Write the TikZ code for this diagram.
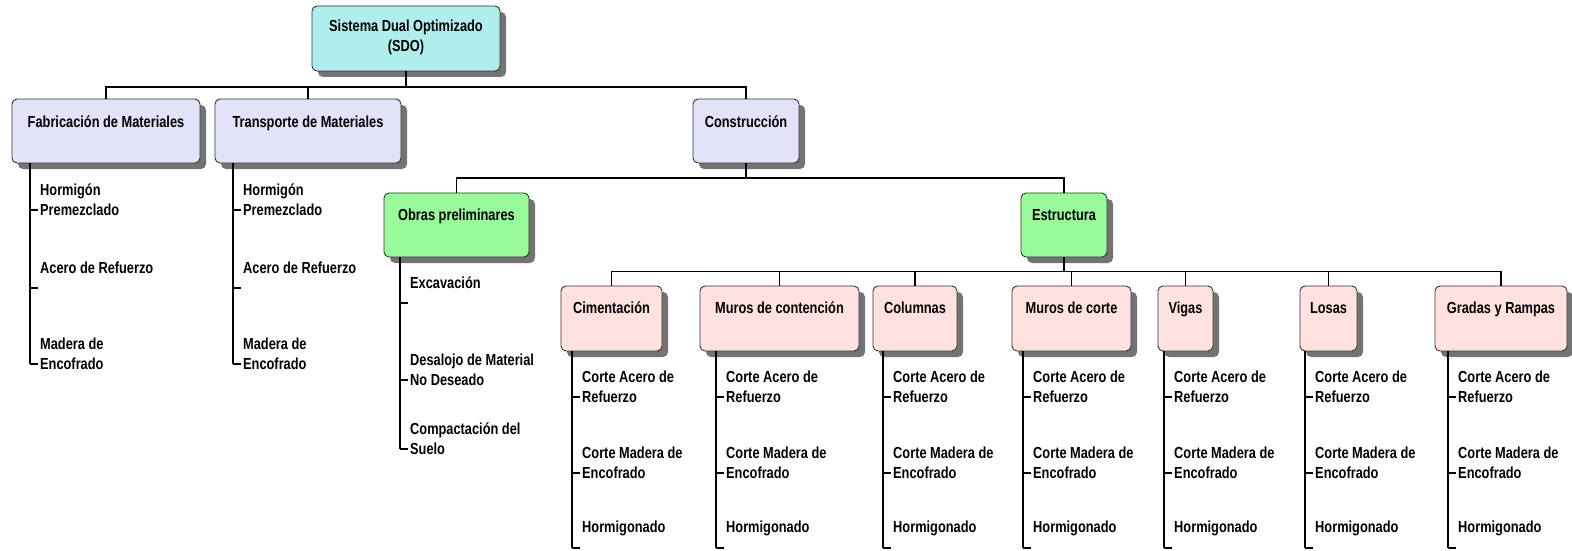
\documentclass[tikz,border=0pt]{standalone}
\usepackage{fontspec}
\setmainfont{Liberation Sans}[FakeStretch=0.8]
\usetikzlibrary{shadows}
\definecolor{cSDO}{RGB}{176,238,238}
\definecolor{cBlue}{RGB}{226,226,248}
\definecolor{cGreen}{RGB}{152,250,152}
\definecolor{cPink}{RGB}{255,226,224}
\definecolor{cEdge}{RGB}{50,50,50}
\tikzset{
  box/.style={draw=cEdge, line width=0.9pt, rounded corners=5pt, inner sep=0pt,
    drop shadow={shadow xshift=6pt, shadow yshift=-6pt, fill=black!55, opacity=1}},
  bxsdo/.style={box, fill=cSDO},
  bxblue/.style={box, fill=cBlue},
  bxgreen/.style={box, fill=cGreen},
  bxpink/.style={box, fill=cPink},
  conn/.style={draw=black, line width=1.8pt},
  lst/.style={draw=black, line width=1.6pt},
  txt/.style={font=\fontsize{16}{19.5}\selectfont\bfseries, inner sep=0pt, align=center},
  txt1/.style={txt, text height=11.5pt, text depth=3.5pt},
  itm/.style={font=\fontsize{16}{20}\selectfont\bfseries, inner sep=0pt, align=left, anchor=west},
}
% item macro: #1 name, #2 list x, #3 first line y, #4 text, #5 number of lines
\newcommand{\listitem}[5]{%
  \ifnum#5=2
    \node[itm] (#1) at (#2+10,#3+10) {#4};
  \else
    \node[itm] (#1) at (#2+10,#3) {#4};
  \fi
  \coordinate (#1t) at (#2,#3+20);
  \draw[lst] (#1t) -- ++(8,0);
}
\newcommand{\pinklist}[2]{% #1 prefix, #2 x
  \listitem{#1a}{#2}{377}{Corte Acero de\\Refuerzo}{2}
  \listitem{#1b}{#2}{453}{Corte Madera de\\Encofrado}{2}
  \listitem{#1c}{#2}{528}{Hormigonado}{1}
  \draw[lst] (#1.south -| #1ct) -- (#1ct);
}
\begin{document}
\begin{tikzpicture}[x=1pt,y=-1pt]
\useasboundingbox (0,0) rectangle (1572,551);

% boxes
\node[bxsdo, minimum width=188pt, minimum height=65pt] (sdo) at (406,38.5) {};
\node[txt] (sdoT) at (406,37.5) {Sistema Dual Optimizado\\(SDO)};

\node[bxblue, minimum width=188pt, minimum height=64pt] (fab) at (106,131) {};
\node[txt1] (fabT) at (106,123) {Fabricación de Materiales};
\node[bxblue, minimum width=186pt, minimum height=64pt] (tra) at (308,131) {};
\node[txt1] (traT) at (308,123) {Transporte de Materiales};
\node[bxblue, minimum width=106pt, minimum height=64pt] (con) at (746,131) {};
\node[txt1] (conT) at (746,123) {Construcción};

\node[bxgreen, minimum width=145pt, minimum height=64pt] (obr) at (456.5,225) {};
\node[txt1] (obrT) at (456.5,216) {Obras preliminares};
\node[bxgreen, minimum width=86pt, minimum height=64pt] (est) at (1064,225) {};
\node[txt1] (estT) at (1064,216) {Estructura};

\node[bxpink, minimum width=101pt, minimum height=65pt] (cim) at (611.5,318.5) {};
\node[txt1] (cimT) at (611.5,309) {Cimentación};
\node[bxpink, minimum width=159pt, minimum height=65pt] (muc) at (779.5,318.5) {};
\node[txt1] (mucT) at (779.5,309) {Muros de contención};
\node[bxpink, minimum width=84pt, minimum height=65pt] (col) at (915,318.5) {};
\node[txt1] (colT) at (915,309) {Columnas};
\node[bxpink, minimum width=119pt, minimum height=65pt] (mco) at (1071.5,318.5) {};
\node[txt1] (mcoT) at (1071.5,309) {Muros de corte};
\node[bxpink, minimum width=55pt, minimum height=65pt] (vig) at (1185.5,318.5) {};
\node[txt1] (vigT) at (1185.5,309) {Vigas};
\node[bxpink, minimum width=57pt, minimum height=65pt] (los) at (1328.5,318.5) {};
\node[txt1] (losT) at (1328.5,309) {Losas};
\node[bxpink, minimum width=132pt, minimum height=65pt] (gra) at (1501,318.5) {};
\node[txt1] (graT) at (1501,309) {Gradas y Rampas};

% tree connectors
\coordinate (h1) at (406,87);
\draw[conn] (sdo.south) -- (h1);
\draw[conn] (fab.north) -- (fab.north |- h1) -- (con.north |- h1) -- (con.north);
\draw[conn] (tra.north) -- (tra.north |- h1);

\coordinate (h2) at (746,178);
\draw[conn] (con.south) -- (h2);
\draw[conn] (obr.north) -- (obr.north |- h2) -- (est.north |- h2) -- (est.north);

\coordinate (h3) at (1064,271.5);
\draw[conn] (est.south) -- (h3);
\draw[conn] (cim.north) -- (cim.north |- h3) -- (gra.north |- h3) -- (gra.north);
\foreach \b in {muc,col,mco,vig,los}{
  \draw[conn] (\b.north) -- (\b.north |- h3);
}

% lists
\listitem{fa}{30}{190}{Hormigón\\Premezclado}{2}
\listitem{fb}{30}{268}{Acero de Refuerzo}{1}
\listitem{fc}{30}{344}{Madera de\\Encofrado}{2}
\draw[lst] (fab.south -| fct) -- (fct);

\listitem{ta}{233}{190}{Hormigón\\Premezclado}{2}
\listitem{tb}{233}{268}{Acero de Refuerzo}{1}
\listitem{tc}{233}{344}{Madera de\\Encofrado}{2}
\draw[lst] (tra.south -| tct) -- (tct);

\listitem{oa}{400}{283}{Excavación}{1}
\listitem{ob}{400}{360}{Desalojo de Material\\No Deseado}{2}
\listitem{oc}{400}{429}{Compactación del\\Suelo}{2}
\draw[lst] (obr.south -| oct) -- (oct);

\pinklist{cim}{572}
\pinklist{muc}{716}
\pinklist{col}{883}
\pinklist{mco}{1023}
\pinklist{vig}{1164}
\pinklist{los}{1305}
\pinklist{gra}{1448}
\end{tikzpicture}
\end{document}
